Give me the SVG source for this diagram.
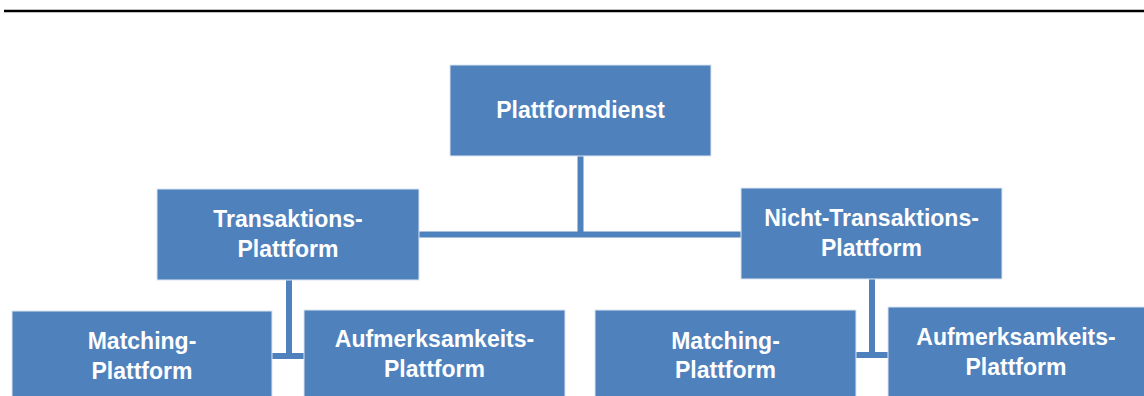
<svg xmlns="http://www.w3.org/2000/svg" width="1144" height="396" viewBox="0 0 1144 396">
<style>
.box{fill:#4F81BD;stroke:#dce6f2;stroke-width:1}
.lbl{font-family:"Liberation Sans",Arial,sans-serif;font-weight:bold;font-size:23px;fill:#ffffff;text-anchor:middle}
.con{stroke:#4F81BD;stroke-width:6;fill:none}
</style>
<rect x="0" y="0" width="1144" height="396" fill="#ffffff"/>
<line x1="4" y1="11" x2="1144" y2="11" stroke="#000000" stroke-width="2.5"/>
<g id="connectors">
<line class="con" x1="580.5" y1="156" x2="580.5" y2="234.5"/>
<line class="con" x1="419" y1="234.5" x2="741" y2="234.5"/>
<line class="con" x1="289" y1="280" x2="289" y2="356"/>
<line class="con" x1="272" y1="356" x2="304" y2="356"/>
<line class="con" x1="872" y1="279" x2="872" y2="355"/>
<line class="con" x1="856" y1="355" x2="888" y2="355"/>
</g>
<g id="n-plattformdienst">
<rect class="box" x="450" y="65" width="261" height="91"/>
<text class="lbl" x="580.5" y="118">Plattformdienst</text>
</g>
<g id="n-transaktions">
<rect class="box" x="157" y="189" width="262" height="91"/>
<text class="lbl" x="288" y="227">Transaktions-</text>
<text class="lbl" x="288" y="257">Plattform</text>
</g>
<g id="n-nicht-transaktions">
<rect class="box" x="741" y="188" width="261" height="91"/>
<text class="lbl" x="871.5" y="226">Nicht-Transaktions-</text>
<text class="lbl" x="871.5" y="256">Plattform</text>
</g>
<g id="n-matching-left">
<rect class="box" x="12" y="311" width="260" height="90"/>
<text class="lbl" x="142" y="349">Matching-</text>
<text class="lbl" x="142" y="379">Plattform</text>
</g>
<g id="n-aufmerksamkeit-left">
<rect class="box" x="304" y="310" width="261" height="90"/>
<text class="lbl" x="434.5" y="347">Aufmerksamkeits-</text>
<text class="lbl" x="434.5" y="377">Plattform</text>
</g>
<g id="n-matching-right">
<rect class="box" x="595" y="310" width="261" height="90"/>
<text class="lbl" x="725.5" y="349">Matching-</text>
<text class="lbl" x="725.5" y="378">Plattform</text>
</g>
<g id="n-aufmerksamkeit-right">
<rect class="box" x="888" y="307" width="260" height="93"/>
<text class="lbl" x="1016" y="345">Aufmerksamkeits-</text>
<text class="lbl" x="1016" y="375">Plattform</text>
</g>
</svg>
